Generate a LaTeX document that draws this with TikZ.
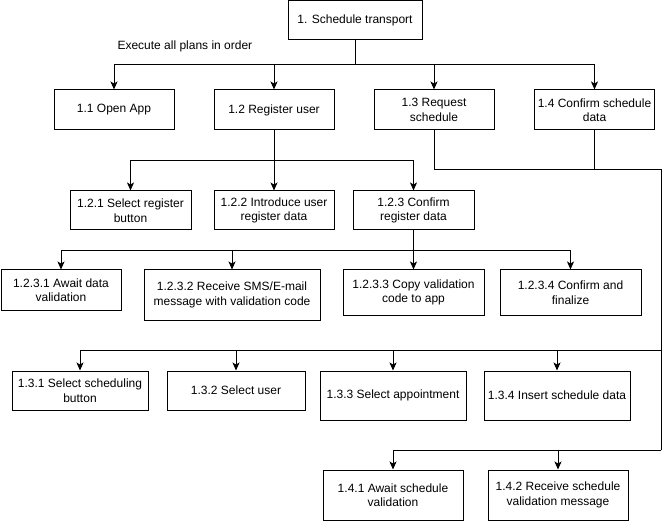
\documentclass[tikz,border=0pt]{standalone}
\usepackage{fontspec}
\setmainfont{Liberation Sans}
\usetikzlibrary{arrows.meta}
\begin{document}
\begin{tikzpicture}[x=1pt,y=-1pt,line width=1pt,
  box/.style={draw=black,rectangle,align=center,inner sep=1pt,
    font=\fontsize{12}{14.5}\selectfont},
  arr/.style={-{Stealth[length=8pt,width=7pt,inset=2pt]}},
  ln/.style={draw=black}]
\useasboundingbox (0,0) rectangle (669,521);
% level 1
\node[box,minimum width=134pt,minimum height=39.5pt] (t) at (355,20.25) {1. Schedule transport};
\node[anchor=west,font=\fontsize{12}{14.5}\selectfont,inner sep=0pt] (lbl) at (117,46) {Execute all plans in order};
% level 2
\node[box,minimum width=120pt,minimum height=40pt] (a1) at (114,110) {1.1 Open App};
\node[box,minimum width=120pt,minimum height=40pt] (a2) at (274,110) {1.2 Register user};
\node[box,minimum width=120pt,minimum height=40pt] (a3) at (434,110) {1.3 Request\\schedule};
\node[box,minimum width=120pt,minimum height=40pt] (a4) at (594.5,110) {1.4 Confirm schedule\\data};
% level 1.2.x
\node[box,minimum width=121pt,minimum height=39pt] (b1) at (130.5,210.5) {1.2.1 Select register\\button};
\node[box,minimum width=120pt,minimum height=39pt] (b2) at (274,210.5) {1.2.2 Introduce user\\register data};
\node[box,minimum width=121pt,minimum height=39pt] (b3) at (413.5,210.5) {1.2.3 Confirm\\register data};
% level 1.2.3.x
\node[box,minimum width=120pt,minimum height=40pt] (c1) at (61,290) {1.2.3.1 Await data\\validation};
\node[box,minimum width=176pt,minimum height=50pt] (c2) at (232,295) {1.2.3.2 Receive SMS/E-mail\\message with validation code};
\node[box,minimum width=141pt,minimum height=45pt] (c3) at (413.5,292.5) {1.2.3.3 Copy validation\\code to app};
\node[box,minimum width=141pt,minimum height=45pt] (c4) at (570.5,292.5) {1.2.3.4 Confirm and\\finalize};
% level 1.3.x
\node[box,minimum width=136pt,minimum height=39pt] (d1) at (80,390.5) {1.3.1 Select scheduling\\button};
\node[box,minimum width=138pt,minimum height=39pt] (d2) at (236,390.5) {1.3.2 Select user};
\node[box,minimum width=146pt,minimum height=49pt] (d3) at (393,395.5) {1.3.3 Select appointment};
\node[box,minimum width=146pt,minimum height=49pt] (d4) at (557,395.5) {1.3.4 Insert schedule data};
% level 1.4.x
\node[box,minimum width=140pt,minimum height=50pt] (e1) at (393,495) {1.4.1 Await schedule\\validation};
\node[box,minimum width=140pt,minimum height=50pt] (e2) at (558,495) {1.4.2 Receive schedule\\validation message};
% junctions
\coordinate (j0) at (355,65);
\coordinate (j1) at (274,161);
\coordinate (j2) at (413.5,251);
\coordinate (r0) at (434,170);
\coordinate (r1) at (661,170);
\coordinate (r2) at (661,350.5);
\coordinate (r3) at (661,450);
% connectors level 1
\draw[ln] (t.south) -- (j0);
\foreach \n in {a1,a2,a3,a4}{\draw[ln,arr] (j0) -| (\n.north);}
% 1.2 children
\draw[ln] (a2.south) -- (j1);
\foreach \n in {b1,b2,b3}{\draw[ln,arr] (j1) -| (\n.north);}
% 1.2.3 children
\draw[ln] (b3.south) -- (j2);
\foreach \n in {c1,c2,c3,c4}{\draw[ln,arr] (j2) -| (\n.north);}
% 1.3 / 1.4 bus
\draw[ln] (a3.south) -- (r0) -- (r1) -- (r3);
\draw[ln] (a4.south) -- (a4.south |- r0);
\foreach \n in {d1,d2,d3,d4}{\draw[ln,arr] (r2) -| (\n.north);}
\foreach \n in {e1,e2}{\draw[ln,arr] (r3) -| (\n.north);}
\end{tikzpicture}
\end{document}
